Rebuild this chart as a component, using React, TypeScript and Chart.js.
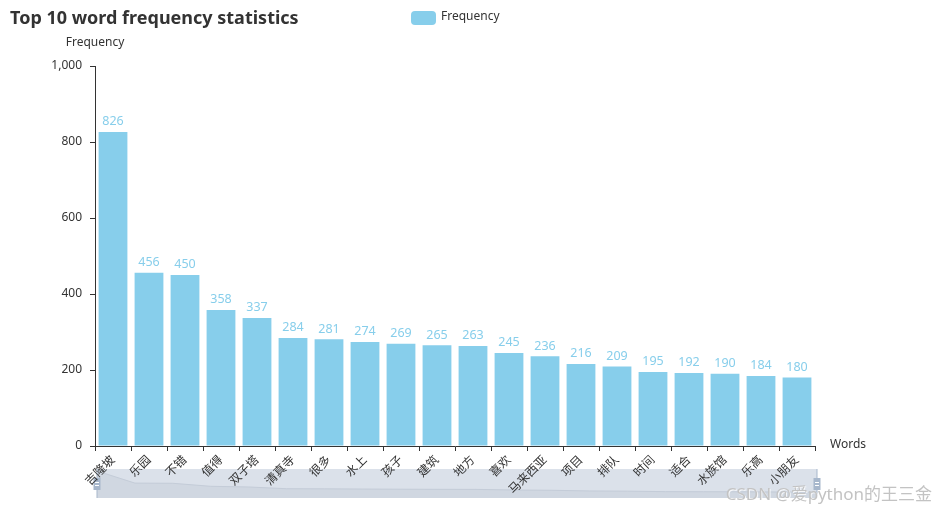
import React, { useEffect, useRef } from "react";
import { Chart, registerables } from "chart.js";

Chart.register(...registerables);

const categories: string[] = [
  "吉隆坡", "乐园", "不错", "值得", "双子塔", "清真寺", "很多", "水上", "孩子", "建筑",
  "地方", "喜欢", "马来西亚", "项目", "排队", "时间", "适合", "水族馆", "乐高", "小朋友",
];
const frequencies: number[] = [
  826, 456, 450, 358, 337, 284, 281, 274, 269, 265,
  263, 245, 236, 216, 209, 195, 192, 190, 184, 180,
];
const yTicks: number[] = [0, 200, 400, 600, 800, 1000];
const seriesName = "Frequency";
const titleText = "Top 10 word frequency statistics";
const yAxisName = "Frequency";
const xAxisName = "Words";
const watermark = "CSDN @爱python的王三金";

const FONT = "'Noto Sans', 'Noto Sans CJK SC', sans-serif";
const BAR = "#87CEEB";
const TEXT = "#333333";

const decorPlugin = {
  id: "decor",
  beforeDraw(chart: any) {
    const { ctx, chartArea } = chart;
    const left = chartArea.left + 2;
    const right = chartArea.right + 2;
    const top = 469;
    const h = 29;
    const w = right - left;
    ctx.save();
    ctx.fillStyle = "#dbe1ea";
    ctx.fillRect(left, top, w, h);
    const max = Math.max(...frequencies);
    const n = frequencies.length;
    ctx.beginPath();
    ctx.moveTo(left, top + h);
    frequencies.forEach((v, i) => {
      const x = left + (i / (n - 1)) * w;
      const y = top + 2 + (1 - v / max) * (h - 2);
      ctx.lineTo(x, y);
    });
    ctx.lineTo(right, top + h);
    ctx.closePath();
    ctx.fillStyle = "#d0d7e1";
    ctx.fill();
    ctx.beginPath();
    frequencies.forEach((v, i) => {
      const x = left + (i / (n - 1)) * w;
      const y = top + 2 + (1 - v / max) * (h - 2);
      if (i === 0) ctx.moveTo(x, y);
      else ctx.lineTo(x, y);
    });
    ctx.strokeStyle = "#c4ccd8";
    ctx.lineWidth = 1;
    ctx.stroke();
    [left, right].forEach((hx) => {
      ctx.fillStyle = "#a7b7cc";
      ctx.fillRect(hx - 0.5, top, 1, h);
      ctx.fillRect(hx - 3.5, top + 9, 7, 12);
      ctx.fillStyle = "#ffffff";
      ctx.fillRect(hx - 2, top + 13, 4, 1);
      ctx.fillRect(hx - 2, top + 16, 4, 1);
    });
    ctx.restore();
  },
  afterDatasetsDraw(chart: any) {
    const { ctx } = chart;
    const meta = chart.getDatasetMeta(0);
    ctx.save();
    ctx.font = `12.5px ${FONT}`;
    ctx.fillStyle = BAR;
    ctx.textAlign = "center";
    ctx.textBaseline = "bottom";
    meta.data.forEach((bar: any, i: number) => {
      ctx.fillText(String(frequencies[i]), bar.x, bar.y - 4);
    });
    ctx.restore();
  },
  afterDraw(chart: any) {
    const { ctx, chartArea } = chart;
    ctx.save();
    ctx.font = `bold 18px ${FONT}`;
    ctx.fillStyle = TEXT;
    ctx.textAlign = "left";
    ctx.textBaseline = "middle";
    ctx.fillText(titleText, 10, 19);
    ctx.fillStyle = BAR;
    ctx.beginPath();
    (ctx as any).roundRect(411, 11, 25, 14, 4);
    ctx.fill();
    ctx.font = `12px ${FONT}`;
    ctx.fillStyle = TEXT;
    ctx.fillText(seriesName, 441, 17);
    ctx.textAlign = "center";
    ctx.fillText(yAxisName, chartArea.left, 43);
    ctx.textAlign = "left";
    ctx.fillText(xAxisName, chartArea.right + 15, chartArea.bottom - 1);
    ctx.font = `17px ${FONT}`;
    ctx.textAlign = "right";
    ctx.textBaseline = "alphabetic";
    ctx.fillStyle = "rgba(255,255,255,0.8)";
    ctx.fillText(watermark, 933, 501);
    ctx.fillStyle = "#c3c3c3";
    ctx.fillText(watermark, 932, 500);
    ctx.restore();
  },
};

export default function App() {
  const canvasRef = useRef<HTMLCanvasElement | null>(null);

  useEffect(() => {
    document.body.style.margin = "0";
    const canvas = canvasRef.current;
    if (!canvas) return;
    const chart = new Chart(canvas, {
      type: "bar",
      data: {
        labels: categories,
        datasets: [
          {
            label: seriesName,
            data: frequencies,
            backgroundColor: BAR,
            categoryPercentage: 0.8,
            barPercentage: 1,
          },
        ],
      },
      options: {
        responsive: false,
        animation: false,
        devicePixelRatio: 1,
        layout: { padding: { top: 66, right: 122, left: 0, bottom: 0 } },
        plugins: {
          legend: { display: false },
          title: { display: false },
          tooltip: { enabled: false },
        },
        scales: {
          x: {
            type: "category",
            offset: true,
            grid: {
              offset: true,
              drawOnChartArea: false,
              drawTicks: true,
              tickLength: 5,
              color: TEXT,
            },
            border: { display: true, color: TEXT },
            ticks: {
              autoSkip: false,
              maxRotation: 45,
              minRotation: 45,
              padding: 2,
              color: TEXT,
              font: { size: 12, family: FONT },
            },
            afterFit: (s: any) => {
              s.height = 63;
            },
          },
          y: {
            min: 0,
            max: 1000,
            afterBuildTicks: (s: any) => {
              s.ticks = yTicks.map((v) => ({ value: v }));
            },
            grid: {
              drawOnChartArea: false,
              drawTicks: true,
              tickLength: 5,
              color: TEXT,
            },
            border: { display: true, color: TEXT },
            ticks: {
              padding: 8,
              color: TEXT,
              font: { size: 12, family: FONT },
              callback: (v: any) => Number(v).toLocaleString("en-US"),
            },
            afterFit: (s: any) => {
              s.width = 95;
            },
          },
        },
      } as any,
      plugins: [decorPlugin],
    });
    return () => chart.destroy();
  }, []);

  return (
    <div style={{ width: 937, height: 509 }}>
      <canvas ref={canvasRef} width={937} height={509} />
    </div>
  );
}
